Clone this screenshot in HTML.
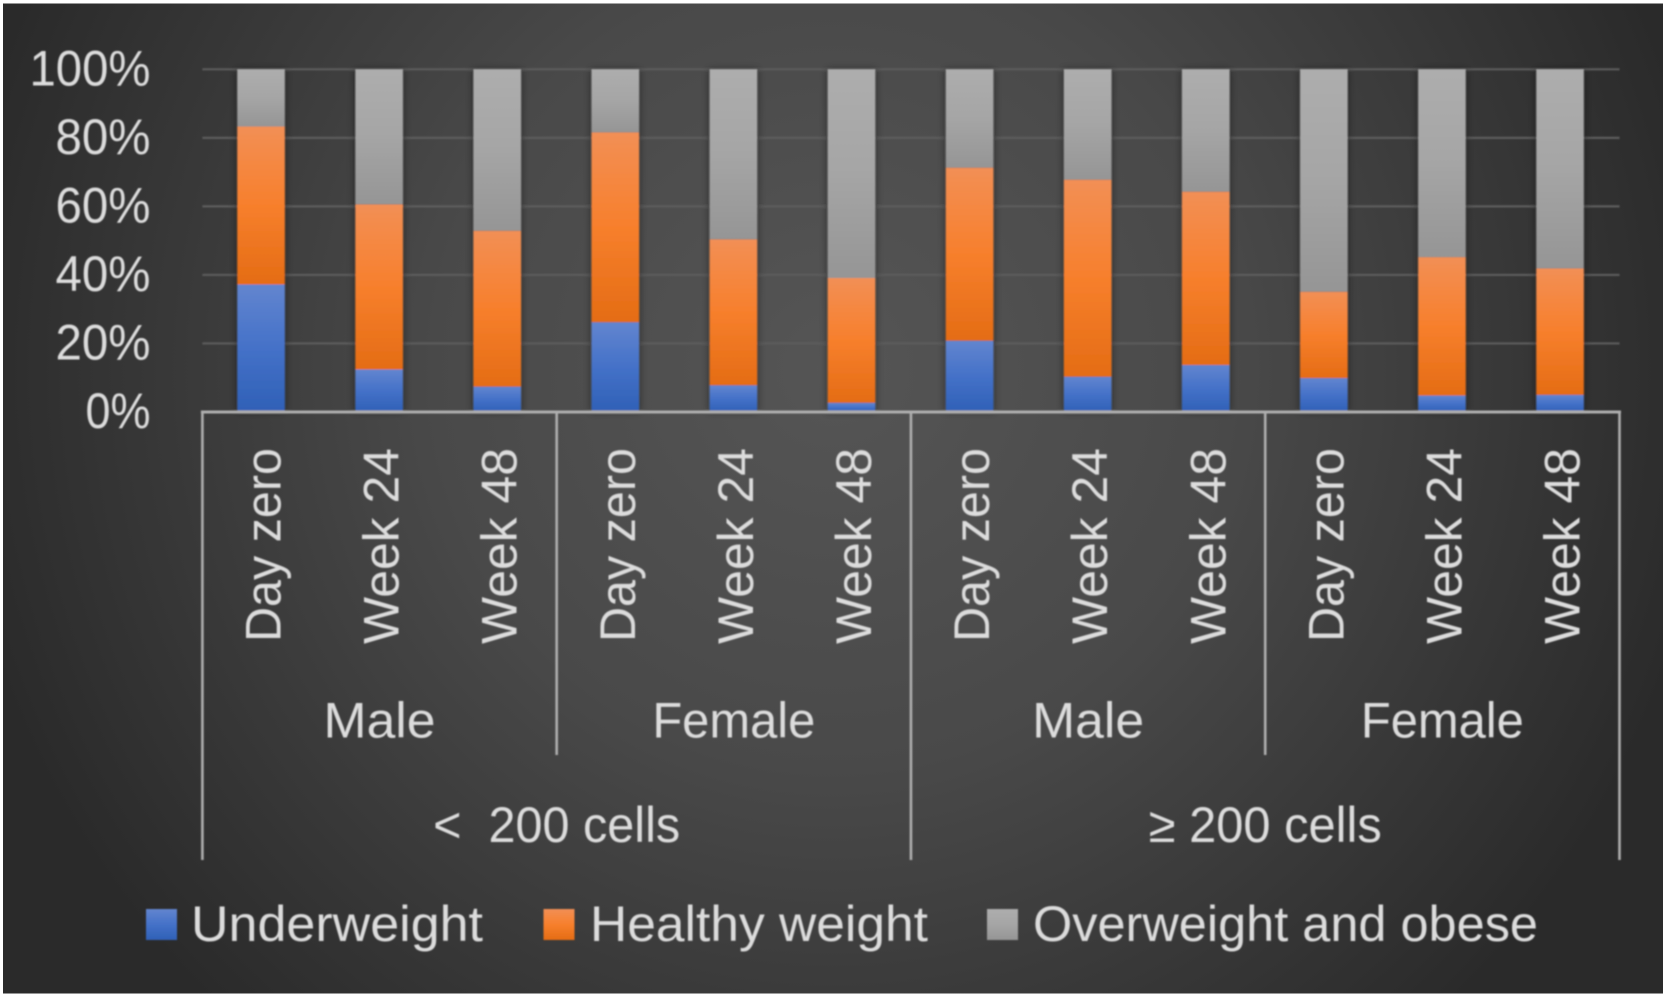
<!DOCTYPE html>
<html lang="en">
<head>
<meta charset="utf-8">
<title>Weight category by CD4 count, sex and visit</title>
<style>
  html, body { margin: 0; padding: 0; background: #ffffff; }
  body { width: 1667px; height: 999px; overflow: hidden; }
  svg { display: block; }
  text { font-family: "Liberation Sans", sans-serif; fill: #dcdcdc; white-space: pre; }
</style>
</head>
<body>
<svg id="chart" xmlns="http://www.w3.org/2000/svg" width="1667" height="999" viewBox="0 0 1667 999">
  <defs>
    <radialGradient id="bg-grad" gradientUnits="userSpaceOnUse" cx="833" cy="370" r="890">
      <stop offset="0" stop-color="#555555"/>
      <stop offset="0.45" stop-color="#494949"/>
      <stop offset="1" stop-color="#2a2a2a"/>
    </radialGradient>
    <linearGradient id="grad-blue" x1="0" y1="0" x2="0" y2="1">
      <stop offset="0" stop-color="#6285cf"/>
      <stop offset="0.5" stop-color="#4471c8"/>
      <stop offset="1" stop-color="#2f60b6"/>
    </linearGradient>
    <linearGradient id="grad-orange" x1="0" y1="0" x2="0" y2="1">
      <stop offset="0" stop-color="#f28f55"/>
      <stop offset="0.5" stop-color="#f77f2c"/>
      <stop offset="1" stop-color="#e46c14"/>
    </linearGradient>
    <linearGradient id="grad-gray" x1="0" y1="0" x2="0" y2="1">
      <stop offset="0" stop-color="#adadad"/>
      <stop offset="0.5" stop-color="#a5a5a5"/>
      <stop offset="1" stop-color="#959595"/>
    </linearGradient>
    <filter id="bar-shadow" x="-30%" y="-5%" width="160%" height="110%">
      <feGaussianBlur stdDeviation="4"/>
    </filter>
    <filter id="soft" x="-2%" y="-2%" width="104%" height="104%">
      <feGaussianBlur stdDeviation="0.8"/>
    </filter>
  </defs>
  <rect x="3" y="3.5" width="1660" height="990" fill="url(#bg-grad)"/>
  <g id="plot" filter="url(#soft)"></g>
</svg>
<script>
// ---- chart data ----
const visits = ["Day zero","Week 24","Week 48","Day zero","Week 24","Week 48","Day zero","Week 24","Week 48","Day zero","Week 24","Week 48"];
const sexGroups = ["Male","Female","Male","Female"];
const cellGroups = ["<  200 cells","\u2265 200 cells"];
const underweight = [37.2, 12.4, 7.4, 26.2, 7.8, 2.7, 20.8, 10.3, 13.7, 9.9, 4.8, 5];
const healthyWeight = [46.1, 48.2, 45.5, 55.4, 42.6, 36.4, 50.5, 57.5, 50.6, 25.2, 40.4, 36.9];
const overweightObese = [16.7, 39.4, 47.1, 18.4, 49.6, 60.9, 28.7, 32.2, 35.7, 64.9, 54.8, 58.1];
const yTicks = [0, 20, 40, 60, 80, 100];
const seriesNames = ["Underweight","Healthy weight","Overweight and obese"];

// ---- layout ----
const NS = "http://www.w3.org/2000/svg";
const plot = document.getElementById("plot");
const plotLeft = 202.4, plotRight = 1619.5, plotTop = 69.3, plotBase = 412;
const step = (plotRight - plotLeft) / visits.length;
const barWidth = step * 0.402;
const xScale = i => plotLeft + step * i;
const centerX = i => xScale(i) + step / 2 - 0.4;
const yScale = v => plotBase - (plotBase - plotTop) * v / 100;

function el(tag, attrs) {
  const e = document.createElementNS(NS, tag);
  for (const k in attrs) e.setAttribute(k, attrs[k]);
  return e;
}
function label(str, attrs, len) {
  const t = el("text", attrs);
  t.setAttribute("font-size", attrs["font-size"] || 50);
  if (len) {
    t.setAttribute("textLength", len);
    t.setAttribute("lengthAdjust", "spacingAndGlyphs");
  }
  t.textContent = str;
  plot.appendChild(t);
  return t;
}

// gridlines
yTicks.forEach(v => {
  if (v === 0) return;
  const g = el("line", { x1: plotLeft, x2: plotRight, y1: yScale(v), y2: yScale(v), stroke: "#5c5c5c", "stroke-width": 2.2 });
  
  
  plot.appendChild(g);
});

// y tick labels
const yTickWidths = { 100: 121, 80: 95, 60: 95, 40: 95, 20: 95, 0: 65 };
yTicks.forEach(v => {
  const t = label(v + "%", { x: 150.5, y: yScale(v) + 16, "text-anchor": "end" }, yTickWidths[v]);
  
  
});

// bars
const stacks = [underweight, healthyWeight, overweightObese];
const fills = ["url(#grad-blue)", "url(#grad-orange)", "url(#grad-gray)"];
const keys = ["underweight", "healthy", "overweight"];
visits.forEach((name, i) => {
  const total = underweight[i] + healthyWeight[i] + overweightObese[i];
  const x = centerX(i) - barWidth / 2;
  const shadow = el("rect", { x: x - 1, y: yScale(100), width: barWidth + 2, height: plotBase - yScale(100), fill: "#000000", opacity: 0.4, filter: "url(#bar-shadow)" });
  
  
  plot.appendChild(shadow);
  let cum = 0;
  stacks.forEach((series, s) => {
    const share = series[i] / total * 100;
    const y1 = yScale(cum + share), y0 = yScale(cum);
    const r = el("rect", { x: x, y: y1, width: barWidth, height: Math.max(0, y0 - y1), fill: fills[s] });
    
    
    plot.appendChild(r);
    cum += share;
  });
});

// axis lines
const axisColor = "#aeaeae";
const baseLine = el("line", { x1: plotLeft - 1.5, x2: plotRight + 1.5, y1: plotBase, y2: plotBase, stroke: axisColor, "stroke-width": 3 });


plot.appendChild(baseLine);
for (let i = 0; i <= visits.length; i += 3) {
  const tall = i % 6 === 0;
  const tick = el("line", { x1: xScale(i), x2: xScale(i), y1: plotBase, y2: tall ? 860 : 755, stroke: axisColor, "stroke-width": 2.6 });
  
  
  plot.appendChild(tick);
}

// rotated visit labels
visits.forEach((name, i) => {
  const bx = centerX(i) + 19.5;
  const by = name === "Day zero" ? 642 : 644;
  const t = label(name, { x: 0, y: 0, transform: "translate(" + bx + " " + by + ") rotate(-90)" }, name === "Day zero" ? 194 : 196);
  
  
});

// sex group labels
const sexWidths = { Male: 112, Female: 163 };
sexGroups.forEach((name, i) => {
  const t = label(name, { x: xScale(i * 3) + step * 1.5, y: 737.5, "text-anchor": "middle" }, sexWidths[name]);
  
  
});

// cell count group labels
cellGroups.forEach((name, i) => {
  const t = label(name, { x: xScale(i * 6) + step * 3, y: 842, "text-anchor": "middle" }, i === 0 ? 247 : 233);
  
  
});

// legend
const legendSwatchX = [146, 543.5, 987];
const legendTextX = [191, 590, 1033];
const legendTextW = [292, 338, 505];
seriesNames.forEach((name, s) => {
  const sw = el("rect", { x: legendSwatchX[s], y: 909, width: 31, height: 31, fill: fills[s] });
  
  
  plot.appendChild(sw);
  const t = label(name, { x: legendTextX[s], y: 941 }, legendTextW[s]);
  
  
});
</script>
</body>
</html>
